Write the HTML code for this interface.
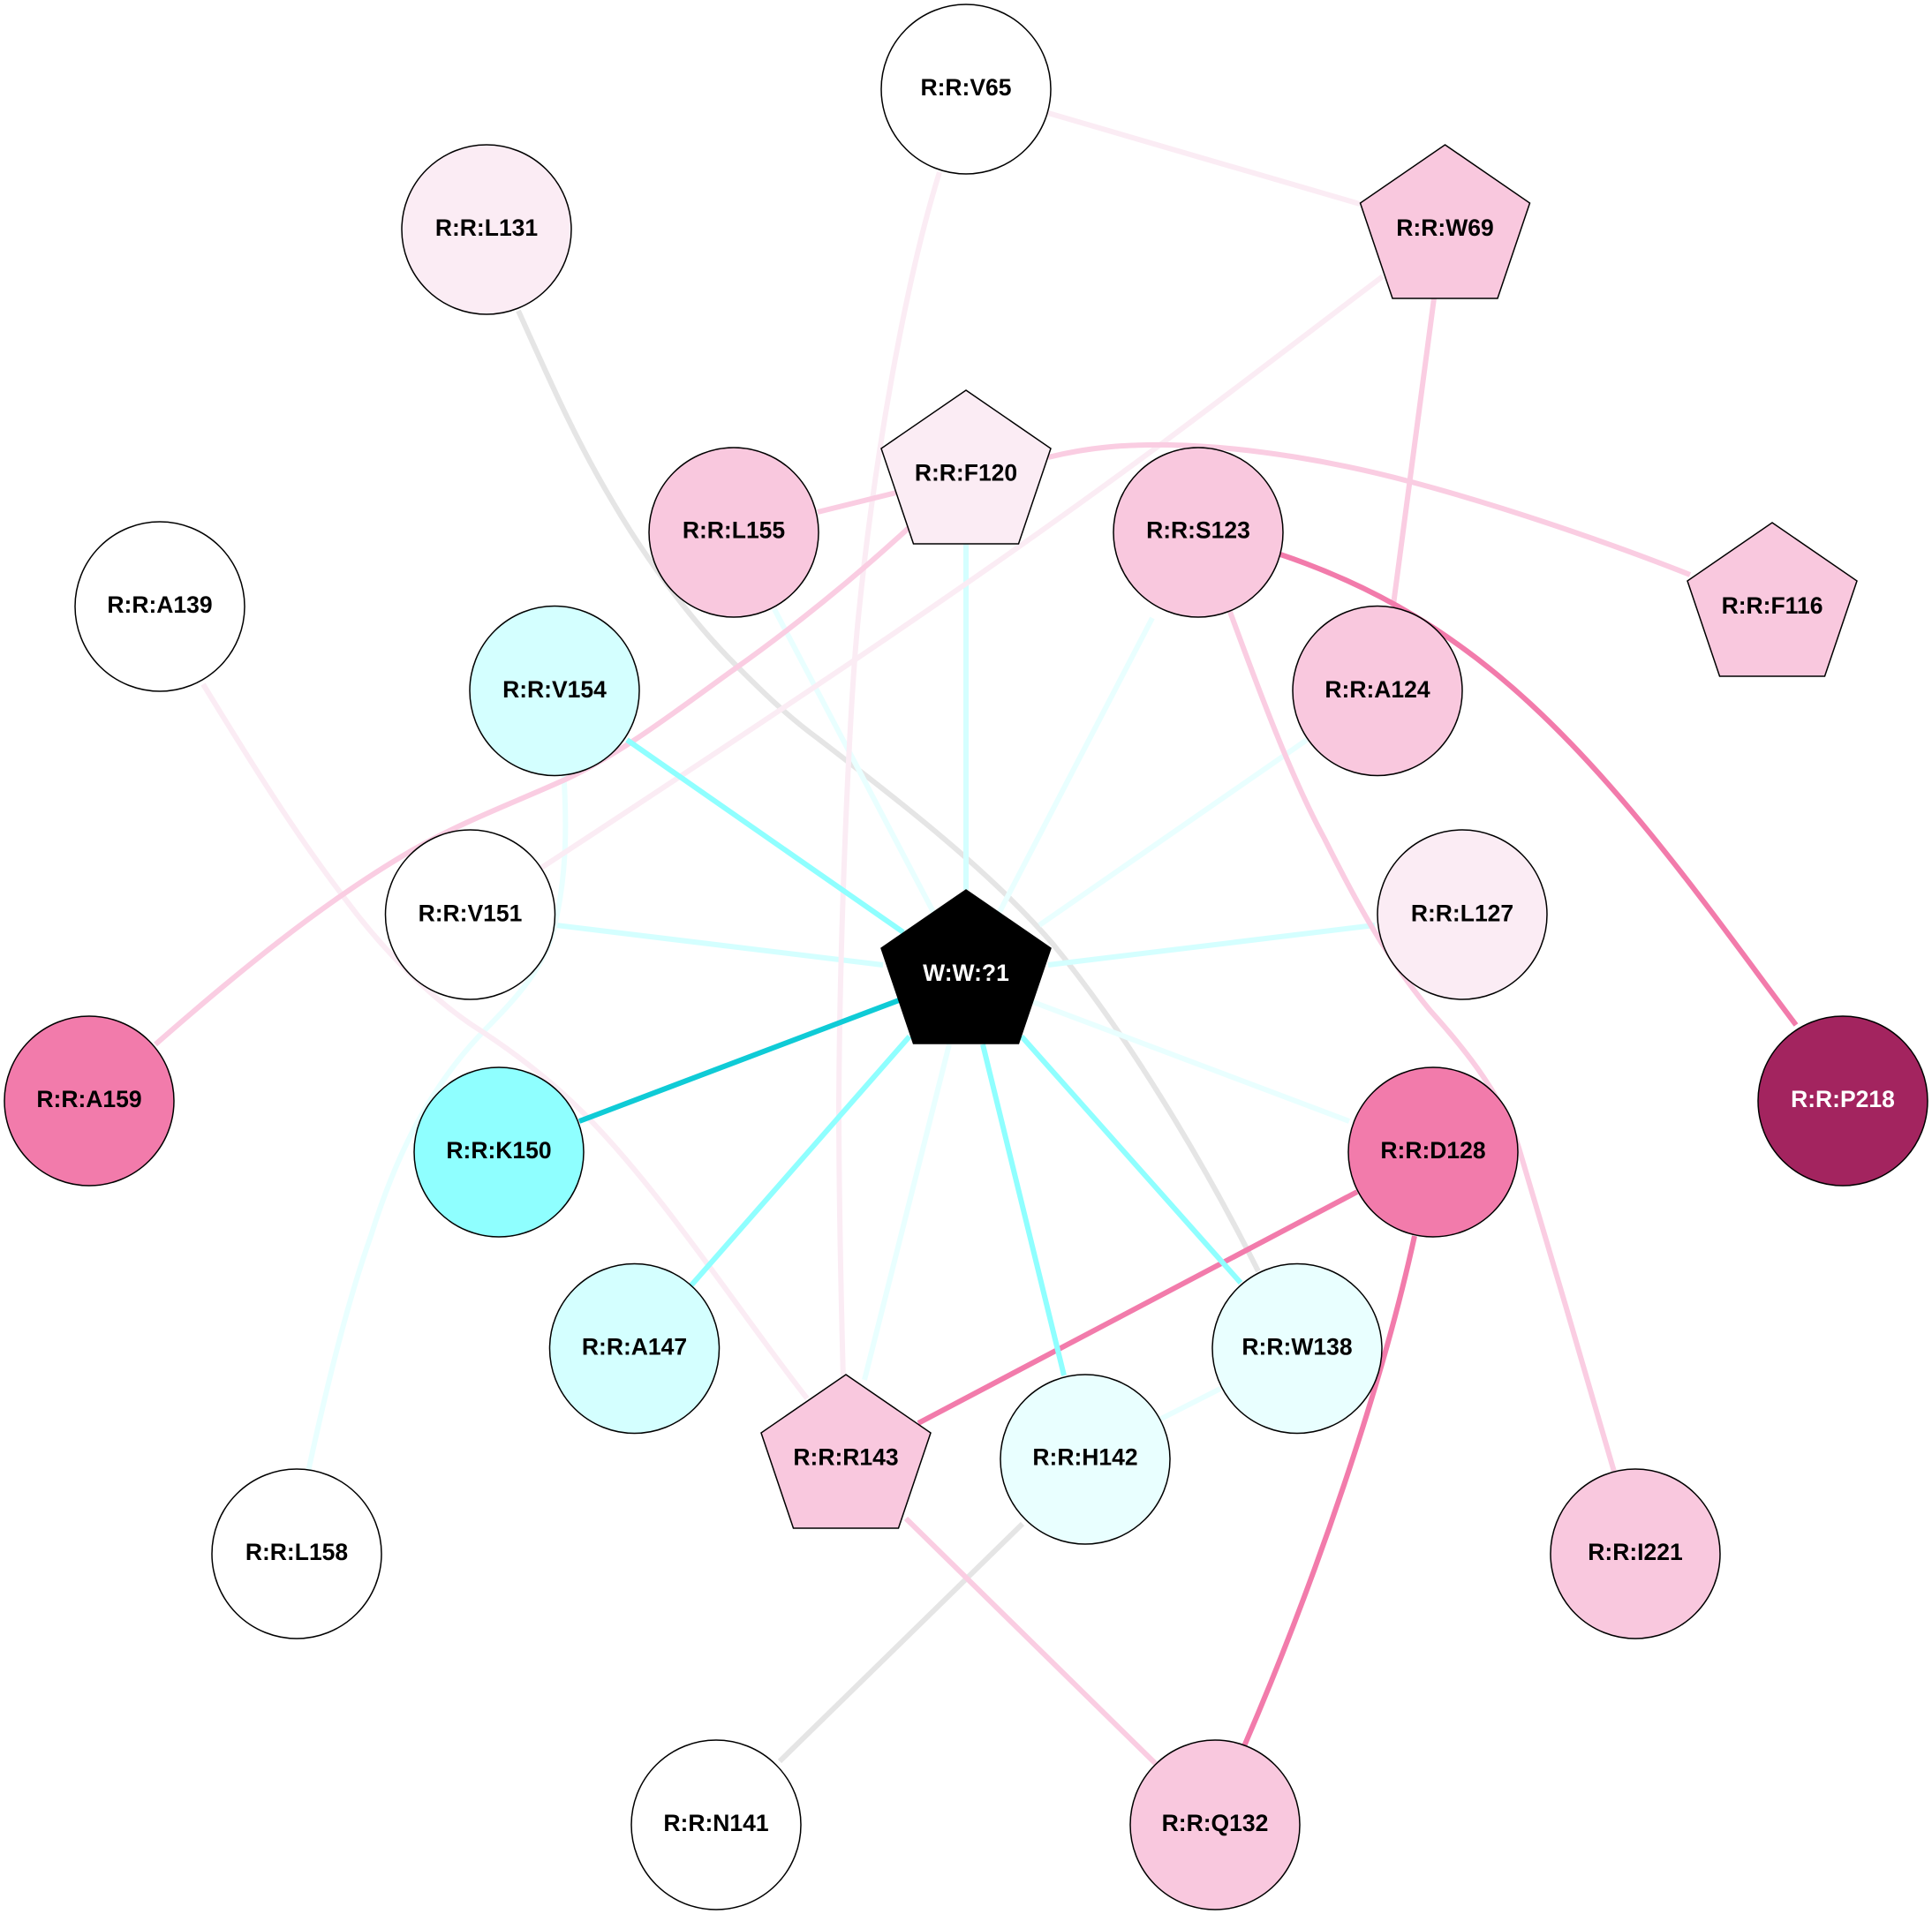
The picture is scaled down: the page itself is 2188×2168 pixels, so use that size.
<!DOCTYPE html>
<html><head><meta charset="utf-8"><style>
html,body{margin:0;padding:0;background:#fff}
svg{display:block}
text{font-family:"Liberation Sans",Arial,sans-serif;font-weight:bold;font-size:26.5px;text-anchor:middle;fill:#000}
.e{fill:none;stroke-width:6}
.n{stroke:#000;stroke-width:1.5}
</style></head><body>
<svg xmlns="http://www.w3.org/2000/svg" width="2188" height="2168" viewBox="0 0 2188 2168">
<rect width="2188" height="2168" fill="#fff"/>
<!-- edges -->
<g class="edges">
<path class="e" stroke="#e5e5e5" d="M587 352C620 425 650 495 693 567C725 622 775 695 833 753C860 780 890 810 927 837C1015 905 1120 985 1193 1070C1275 1170 1360 1310 1425 1440"/>
<path class="e" stroke="#e5e5e5" d="M1158 1726L883 1995"/>
<path class="e" stroke="#d4ffff" d="M1094 616L1094 1008"/>
<path class="e" stroke="#e9ffff" d="M1305 700L1132 1033"/>
<path class="e" stroke="#e9ffff" d="M877 690L1057 1033"/>
<path class="e" stroke="#e9ffff" d="M1480 838L1177 1048"/>
<path class="e" stroke="#d4ffff" d="M1557 1048L1187 1093"/>
<path class="e" stroke="#d4ffff" d="M630 1048L1000 1093"/>
<path class="e" stroke="#e9ffff" d="M1528 1270L1170 1135"/>
<path class="e" stroke="#e9ffff" d="M979 1563L1075 1183"/>
<path class="e" stroke="#e9ffff" d="M1313 1608L1382 1573"/>
<path class="e" stroke="#e9ffff" d="M638 870C642 930 642 985 630 1040C620 1095 585 1130 543 1173C480 1240 445 1320 420 1400C395 1470 370 1570 349 1667"/>
<path class="e" stroke="#fbecf4" d="M1187 128L1540 231"/>
<path class="e" stroke="#fbecf4" d="M1064 195C1025 320 990 520 972 700C962 800 951 1050 950 1250C950 1350 952 1450 955 1563"/>
<path class="e" stroke="#fbecf4" d="M1566 313C1480 378 1400 440 1319 500C1130 640 950 762 613 983"/>
<path class="e" stroke="#fbecf4" d="M230 775C285 865 335 945 387 1013C425 1065 475 1120 533 1160C580 1190 625 1225 660 1260C750 1350 840 1490 914 1584"/>
<path class="e" stroke="#facde2" d="M1624 338L1576 700"/>
<path class="e" stroke="#facde2" d="M1015 558L926 580"/>
<path class="e" stroke="#facde2" d="M1187 518C1235 506 1280 503 1325 504C1420 506 1520 525 1595 545C1690 570 1810 610 1914 651"/>
<path class="e" stroke="#facde2" d="M1029 598C965 657 895 713 833 757C770 802 705 853 640 883C585 908 525 930 467 963C365 1022 265 1105 176 1183"/>
<path class="e" stroke="#facde2" d="M1393 693C1425 780 1462 880 1500 950C1535 1020 1570 1085 1620 1145C1665 1195 1703 1245 1720 1300C1750 1400 1800 1570 1828 1667"/>
<path class="e" stroke="#facde2" d="M1026 1720L1309 1998"/>
<path class="e" stroke="#f27bab" d="M1450 628C1560 665 1650 720 1733 797C1850 905 1950 1050 2034 1161"/>
<path class="e" stroke="#f27bab" d="M1537 1350L1040 1612"/>
<path class="e" stroke="#f27bab" d="M1602 1400C1565 1570 1490 1790 1409 1978"/>
<path class="e" stroke="#8fffff" d="M710 838L1023 1056"/>
<path class="e" stroke="#8fffff" d="M781 1458L1030 1174"/>
<path class="e" stroke="#8fffff" d="M1205 1558L1113 1183"/>
<path class="e" stroke="#8fffff" d="M1405 1453L1157 1174"/>
<path class="e" stroke="#0fcbd6" d="M656 1270L1018 1133"/>
</g>
<!-- nodes -->
<g class="n">
<circle cx="1094" cy="101" r="96" fill="#ffffff"/>
<circle cx="551" cy="260" r="96" fill="#fbecf4"/>
<polygon points="1636.5,164 1732.5,230 1696,338 1577,338 1540.5,230" fill="#f9c8de"/>
<polygon points="1094,442 1190,508 1153.5,616 1034.5,616 998,508" fill="#fbecf4"/>
<circle cx="831" cy="603" r="96" fill="#f9c8de"/>
<circle cx="1357" cy="603" r="96" fill="#f9c8de"/>
<circle cx="181" cy="687" r="96" fill="#ffffff"/>
<circle cx="628" cy="782.5" r="96" fill="#d4ffff"/>
<circle cx="1560" cy="782.5" r="96" fill="#f9c8de"/>
<polygon points="2007,592 2103,658 2066.5,766 1947.5,766 1911,658" fill="#f9c8de"/>
<circle cx="532.5" cy="1036" r="96" fill="#ffffff"/>
<circle cx="1656" cy="1036" r="96" fill="#fbecf4"/>
<polygon points="1094,1008 1190,1074 1153.5,1182 1034.5,1182 998,1074" fill="#000"/>
<circle cx="101" cy="1247" r="96" fill="#f27bab"/>
<circle cx="2087" cy="1247" r="96" fill="#a3245f"/>
<circle cx="565" cy="1305" r="96" fill="#8fffff"/>
<circle cx="1623" cy="1305" r="96" fill="#f27bab"/>
<circle cx="718.5" cy="1527.5" r="96" fill="#d4ffff"/>
<circle cx="1469" cy="1527.5" r="96" fill="#e9ffff"/>
<polygon points="958,1557 1054,1623 1017.5,1731 898.5,1731 862,1623" fill="#f9c8de"/>
<circle cx="1229" cy="1653" r="96" fill="#e9ffff"/>
<circle cx="336" cy="1760" r="96" fill="#ffffff"/>
<circle cx="1852" cy="1760" r="96" fill="#f9c8de"/>
<circle cx="811" cy="2067" r="96" fill="#ffffff"/>
<circle cx="1376" cy="2067" r="96" fill="#f9c8de"/>
</g>
<!-- labels -->
<text x="1094" y="108">R:R:V65</text>
<text x="551" y="267">R:R:L131</text>
<text x="1636.5" y="267">R:R:W69</text>
<text x="1094" y="544.5">R:R:F120</text>
<text x="831" y="609.5">R:R:L155</text>
<text x="1357" y="609.5">R:R:S123</text>
<text x="181" y="694">R:R:A139</text>
<text x="628" y="790">R:R:V154</text>
<text x="1560" y="790">R:R:A124</text>
<text x="2007" y="695">R:R:F116</text>
<text x="532.5" y="1043.5">R:R:V151</text>
<text x="1656" y="1043.5">R:R:L127</text>
<text x="1094" y="1111" style="fill:#fff">W:W:?1</text>
<text x="101" y="1254">R:R:A159</text>
<text x="2087" y="1254" style="fill:#fff">R:R:P218</text>
<text x="565" y="1312">R:R:K150</text>
<text x="1623" y="1312">R:R:D128</text>
<text x="718.5" y="1534.5">R:R:A147</text>
<text x="1469" y="1534.5">R:R:W138</text>
<text x="958" y="1659.5">R:R:R143</text>
<text x="1229" y="1659.5">R:R:H142</text>
<text x="336" y="1767">R:R:L158</text>
<text x="1852" y="1767">R:R:I221</text>
<text x="811" y="2074">R:R:N141</text>
<text x="1376" y="2074">R:R:Q132</text>
</svg>
</body></html>
